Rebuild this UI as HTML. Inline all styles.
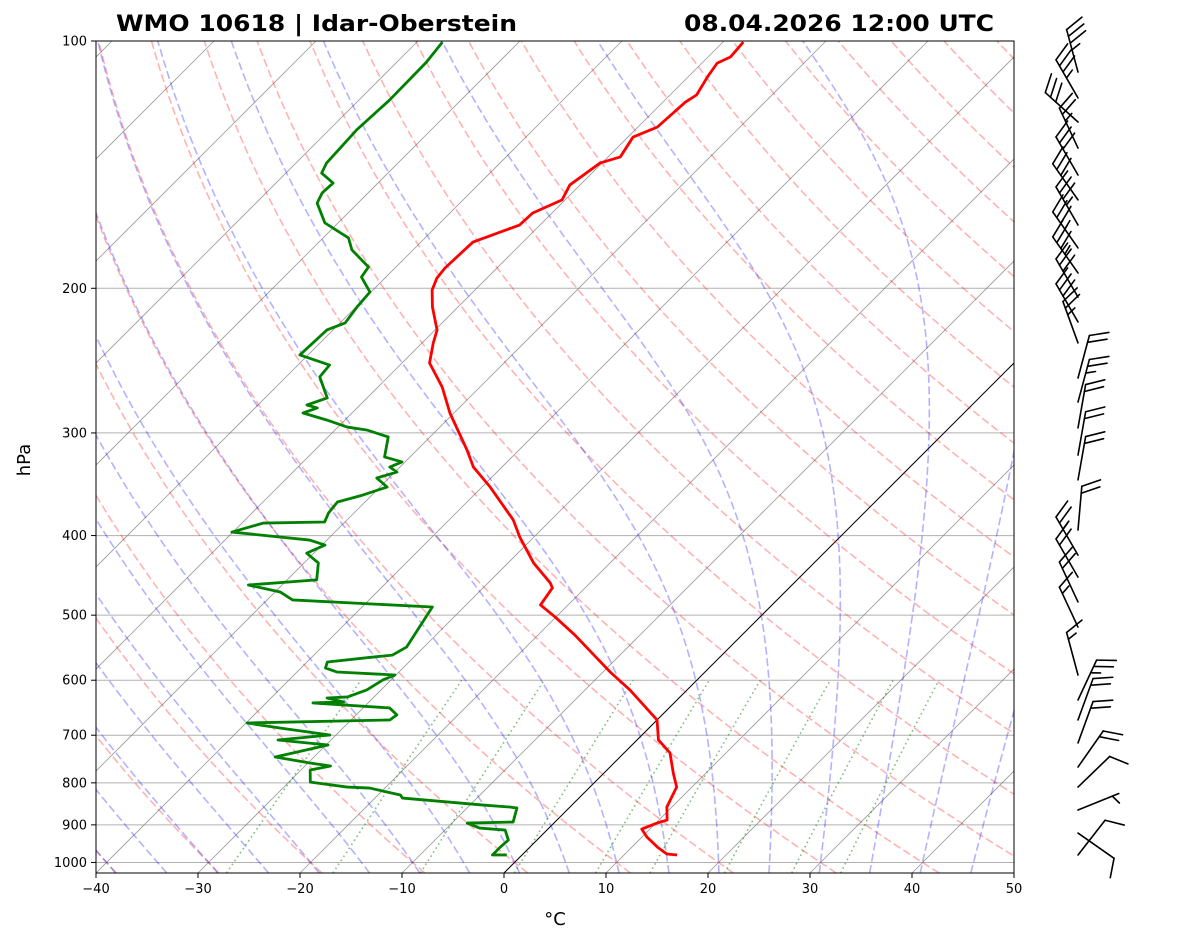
<!DOCTYPE html>
<html><head><meta charset="utf-8"><style>
html,body{margin:0;padding:0;background:#fff;}
svg{display:block;font-family:"DejaVu Sans","Liberation Sans",sans-serif;}
</style></head><body>
<svg id="chart" width="1181" height="941" viewBox="0 0 1181 941" xmlns="http://www.w3.org/2000/svg">
<defs><clipPath id="plotclip"><rect x="96" y="41" width="918" height="832"/></clipPath></defs>
<rect x="0" y="0" width="1181" height="941" fill="#fff"/>
<g id="bg" clip-path="url(#plotclip)"></g>
<g id="profiles" clip-path="url(#plotclip)"></g>
<rect x="96" y="41" width="918" height="832" fill="none" stroke="#000" stroke-width="1"/>
<g id="axes"></g>
<g id="barbs"></g>
<text x="116" y="31" font-size="22" font-weight="bold" textLength="401" lengthAdjust="spacingAndGlyphs">WMO 10618 | Idar-Oberstein</text>
<text x="994" y="31" font-size="22" font-weight="bold" text-anchor="end" textLength="310" lengthAdjust="spacingAndGlyphs">08.04.2026 12:00 UTC</text>
<text x="30" y="460" font-size="18" text-anchor="middle" transform="rotate(-90 30 460)">hPa</text>
<text x="555" y="925" font-size="18" text-anchor="middle">°C</text>
</svg>
<script>
// ---- data ----
const presTicks=[100,200,300,400,500,600,700,800,900,1000];
const tempTicks=[-40,-30,-20,-10,0,10,20,30,40,50];
const tempP=[100.3,104.6,106.4,110.6,116.3,118.7,127.3,130.9,138.4,140.8,149.7,156.1,162.0,167.5,175.7,189.0,194.4,201.0,210.8,224.8,233.1,246.6,263.8,283.7,314.7,330.1,349.1,382.9,401.6,431.9,456.8,463.3,485.9,502.5,528.5,565.3,586.3,616.6,670.7,709.4,735.6,778.4,809.5,832.5,856.1,888.0,895.5,910.7,931.4,957.8,976.5,979.2];
const tempT=[-58.0,-57.8,-58.5,-58.1,-57.4,-57.8,-58.1,-59.5,-58.8,-60.2,-61.0,-60.3,-61.9,-62.0,-64.9,-65.1,-64.9,-64.2,-62.5,-59.8,-58.9,-57.3,-53.7,-50.4,-45.1,-42.8,-39.2,-33.7,-31.4,-27.5,-23.9,-23.2,-22.7,-20.1,-16.4,-11.8,-9.3,-5.6,0.0,2.1,4.5,6.8,8.5,9.0,9.5,10.8,10.1,9.2,10.5,12.5,14.1,15.2];
const dewP=[100.3,106.1,118.0,128.3,140.8,144.8,148.9,153.1,157.5,166.5,173.7,179.6,188.4,193.8,202.1,210.8,220.4,224.8,241.1,248.0,256.4,272.0,277.4,279.7,283.7,289.3,295.1,297.5,303.4,320.9,325.4,330.1,334.8,340.4,349.1,357.1,364.1,375.5,385.1,386.2,396.1,405.1,410.8,420.2,431.9,452.9,459.4,468.5,479.1,488.7,516.9,546.8,559.2,562.3,570.2,579.8,586.3,591.3,599.6,616.6,628.8,630.7,637.7,639.5,648.5,661.3,670.7,676.4,686.0,699.6,709.4,719.5,744.1,756.7,763.0,771.7,798.3,809.5,811.8,827.8,834.9,851.4,856.1,858.6,892.9,895.5,908.1,913.2,939.2,957.8,979.2,979.2];
const dewT=[-87.5,-87.1,-87.0,-87.3,-87.0,-86.5,-84.4,-84.5,-84.0,-81.3,-77.5,-76.0,-72.7,-72.4,-70.1,-69.9,-69.5,-70.6,-70.8,-66.9,-66.7,-63.9,-65.2,-63.9,-64.8,-61.8,-59.1,-56.9,-54.1,-52.5,-50.3,-51.0,-49.8,-51.2,-49.3,-50.9,-52.7,-52.5,-52.0,-57.9,-60.1,-51.7,-49.7,-50.7,-48.6,-47.1,-53.3,-49.5,-47.5,-33.1,-32.4,-31.7,-32.3,-34.0,-38.0,-37.6,-36.1,-30.1,-30.8,-31.4,-32.6,-34.5,-32.5,-35.4,-27.4,-26.0,-26.2,-39.9,-36.2,-30.6,-35.2,-29.8,-33.8,-29.8,-27.5,-29.1,-27.9,-23.8,-21.5,-17.8,-17.3,-8.7,-5.9,-5.1,-4.1,-8.5,-6.8,-4.1,-2.8,-2.9,-2.9,-1.5];
const windP=[109.1,117.3,125.5,135.0,145.6,156.1,167.5,178.6,191.6,205.0,219.8,233.1,257.2,275.1,295.8,319.2,342.2,393.9,422.5,449.4,481.8,516.9,591.3,634.2,670.7,715.3,765.3,809.5,863.3,920.9,979.2];
const windDir=[345,330,312,335,330,325,330,325,325,330,330,340,15,15,10,10,10,5,330,330,335,335,345,25,20,20,35,46,68,125,38];
const windSpd=[35,35,30,25,30,30,35,35,35,30,30,25,20,25,20,20,20,20,25,20,20,15,15,25,20,20,20,10,5,10,10];
const dryT0=[-40,-30,-20,-10,0,10,20,30,40,50,60,70,80,90,100,110,120,130,140,150,160,170,180,190,200];
const moistT0=[-45,-40,-35,-30,-25,-20,-15,-10,-5,0,5,10,15,20,25,30,35,40,45];
const mixW=[0.0004,0.001,0.002,0.004,0.007,0.01,0.016,0.024,0.032];
const isoT=[-120,-110,-100,-90,-80,-70,-60,-50,-40,-30,-20,-10,0,10,20,30,40,50];

// ---- scales ----
const P_TOP=100,P_BOT=1030,X0=96,X1=1014,Y0=41,Y1=873;
function yP(p){return Y0+(Y1-Y0)*Math.log10(p/P_TOP)/Math.log10(P_BOT/P_TOP);}
function xTP(T,p){return X0+(T+40)*(X1-X0)/90+(Y1-yP(p));}
const NS="http://www.w3.org/2000/svg";
function mk(tag,attrs,parent){const e=document.createElementNS(NS,tag);for(const k in attrs)e.setAttribute(k,attrs[k]);parent.appendChild(e);return e;}
function pathFrom(ps,ts){let d="";for(let i=0;i<ps.length;i++){d+=(i?"L":"M")+xTP(ts[i],ps[i]).toFixed(2)+","+yP(ps[i]).toFixed(2);}return d;}
const bg=document.getElementById('bg'),prof=document.getElementById('profiles'),axes=document.getElementById('axes'),barbs=document.getElementById('barbs');

presTicks.forEach(p=>{const l=mk('line',{x1:X0,x2:X1,y1:yP(p),y2:yP(p),stroke:'#b0b0b0','stroke-width':1},bg);

});
isoT.forEach(T=>{const l=mk('line',{x1:xTP(T,P_BOT),y1:yP(P_BOT),x2:xTP(T,P_TOP),y2:yP(P_TOP),stroke:T===0?'#000':'#808080','stroke-width':T===0?1:0.8,'stroke-opacity':T===0?1:0.8},bg);

});
const levels=[];for(let p=P_BOT;p>=P_TOP-0.01;p-=5)levels.push(p);
dryT0.forEach(t0=>{const th=t0+273.15;const ts=levels.map(p=>th*Math.pow(p/1000,0.2857)-273.15);
const e=mk('path',{d:pathFrom(levels,ts),fill:'none',stroke:'#ff0000','stroke-opacity':0.3,'stroke-width':1.6,'stroke-dasharray':'8,3.5'},bg);

});
function es(Tc){return 6.112*Math.exp(17.67*Tc/(Tc+243.5));}
function dTdp(p,T){const Rd=287.04,Cp=1005.7,Lv=2.501e6,eps=0.622;const e=es(T-273.15);const rs=eps*e/(p-e);
return (Rd*T+Lv*rs)/(p*(Cp+Lv*Lv*rs*eps/(Rd*T*T)));}
function moist(t0){let T=t0+273.15,p=1000,h=-2;
const up=[[1000,T]];while(p>P_TOP){const k1=dTdp(p,T),k2=dTdp(p+h/2,T+h/2*k1),k3=dTdp(p+h/2,T+h/2*k2),k4=dTdp(p+h,T+h*k3);T+=h/6*(k1+2*k2+2*k3+k4);p+=h;up.push([p,T]);}
T=t0+273.15;p=1000;const dn=[];h=2;while(p<P_BOT){const k1=dTdp(p,T),k2=dTdp(p+h/2,T+h/2*k1),k3=dTdp(p+h/2,T+h/2*k2),k4=dTdp(p+h,T+h*k3);T+=h/6*(k1+2*k2+2*k3+k4);p+=h;dn.push([p,T]);}
const all=dn.reverse().concat(up);return [all.map(a=>a[0]),all.map(a=>a[1]-273.15)];}
moistT0.forEach(t0=>{const [ps,ts]=moist(t0);
const e=mk('path',{d:pathFrom(ps,ts),fill:'none',stroke:'#0000ff','stroke-opacity':0.3,'stroke-width':1.6,'stroke-dasharray':'8,3.5'},bg);

});
const mixLev=[];for(let p=P_BOT;p>=600;p-=5)mixLev.push(p);
mixW.forEach(w=>{const ts=mixLev.map(p=>{const e=w*p/(0.622+w);const l=Math.log(e/6.112);return 243.5*l/(17.67-l);});
const e=mk('path',{d:pathFrom(mixLev,ts),fill:'none',stroke:'#008000','stroke-opacity':0.5,'stroke-width':1.6,'stroke-dasharray':'1.6,3.2'},bg);

});
const tl=mk('path',{d:pathFrom(tempP,tempT),fill:'none',stroke:'#ff0000','stroke-width':2.8,'stroke-linejoin':'round'},prof);


const dl=mk('path',{d:pathFrom(dewP,dewT),fill:'none',stroke:'#008000','stroke-width':2.8,'stroke-linejoin':'round'},prof);


presTicks.forEach(p=>{const y=yP(p);
const t=mk('line',{x1:X0-5,x2:X0,y1:y,y2:y,stroke:'#000','stroke-width':1},axes);


const tx=mk('text',{x:X0-9,y:y+4.5,'font-size':13,'text-anchor':'end'},axes);tx.textContent=p;

});
tempTicks.forEach(T=>{const x=X0+(T+40)*(X1-X0)/90;
const t=mk('line',{x1:x,x2:x,y1:Y1,y2:Y1+5,stroke:'#000','stroke-width':1},axes);


const tx=mk('text',{x:x,y:Y1+20,'font-size':13,'text-anchor':'middle'},axes);tx.textContent=(T<0?'\u2212'+(-T):T);

});
const BX=1078,L=44;
windP.forEach((p,i)=>{const y=yP(p);const a=windDir[i]*Math.PI/180;const ux=Math.sin(a),uy=-Math.cos(a);
const px=-uy,py=ux;const tx=BX+ux*L,ty=y+uy*L;
const g=mk('g',{stroke:'#000','stroke-width':1.6,fill:'none','stroke-linecap':'round'},barbs);


mk('line',{x1:BX,y1:y,x2:tx,y2:ty},g);
let s=Math.round(windSpd[i]/5)*5;let pos=0;
const full=Math.floor(s/10),half=(s%10)>=5?1:0;
for(let k=0;k<full;k++){const bx=tx-ux*pos*7,by=ty-uy*pos*7;mk('line',{x1:bx,y1:by,x2:bx+px*18+ux*8,y2:by+py*18+uy*8},g);pos++;}
if(half){if(pos===0)pos=1;const bx=tx-ux*pos*7,by=ty-uy*pos*7;mk('line',{x1:bx,y1:by,x2:bx+px*9+ux*4,y2:by+py*9+uy*4},g);}
});
</script>
</body></html>
